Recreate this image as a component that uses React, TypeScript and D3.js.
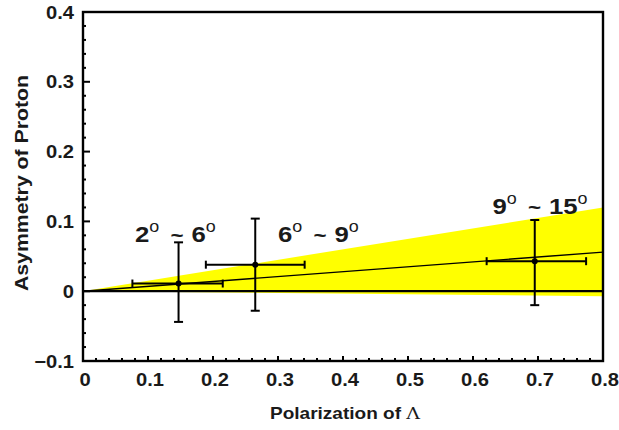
import React from "react";
import * as d3 from "d3";

// ---- data ----
const pointX = [0.147, 0.265, 0.695];
const pointY = [0.011, 0.038, 0.043];
const xErrLo = [0.076, 0.189, 0.621];
const xErrHi = [0.215, 0.341, 0.774];
const yErrLo = [-0.044, -0.028, -0.02];
const yErrHi = [0.07, 0.104, 0.102];
const fitSlope = 0.07;
const bandSlopeHi = 0.15;
const bandSlopeLo = -0.009;
const binLo = ["2", "6", "9"];
const binHi = ["6", "9", "15"];
const labelX = [0.08, 0.30, 0.63];
const labelY = [0.071, 0.071, 0.11];
const xTicks = [0, 0.1, 0.2, 0.3, 0.4, 0.5, 0.6, 0.7, 0.8];
const yTicks = [-0.1, 0, 0.1, 0.2, 0.3, 0.4];
const xTitle = "Polarization of ";
const xTitleSym = "Λ";
const yTitle = "Asymmetry of Proton";

const W = 619;
const H = 430;
const L = 83, R = 603, T = 12, B = 361;
const SX = 1.12;
const FONT = "'Liberation Sans', Arial, sans-serif";
const TXT = "#1a1a1a";

export default function App() {
  const x = d3.scaleLinear().domain([0, 0.8]).range([L, R]);
  const y = d3.scaleLinear().domain([-0.1, 0.4]).range([B, T]);
  const minorX = d3.range(0, 0.8001, 0.02);
  const minorY = d3.range(-0.1, 0.4001, 0.02);
  const band = [
    [0, 0],
    [0.8, 0.8 * bandSlopeHi],
    [0.8, 0.8 * bandSlopeLo],
  ];
  const bandPath = d3.line<number[]>()
    .x((d) => x(d[0]))
    .y((d) => y(d[1]))(band) + "Z";

  return (
    <svg width={W} height={H} style={{ position: "absolute", left: 0, top: 0, background: "#fff" }}>
      <rect x={0} y={0} width={W} height={H} fill="#fff" />
      <path d={bandPath} fill="#ffff00" />
      {/* zero line */}
      <line x1={x(0)} x2={x(0.8)} y1={y(0)} y2={y(0)} stroke="#000" strokeWidth={2.2} />
      {/* fit line */}
      <line x1={x(0)} x2={x(0.8)} y1={y(0)} y2={y(0.8 * fitSlope)} stroke="#000" strokeWidth={1.4} />
      {/* error bars */}
      {pointX.map((px, i) => (
        <g key={i} stroke="#000" strokeWidth={2}>
          <line x1={x(px)} x2={x(px)} y1={y(yErrLo[i])} y2={y(yErrHi[i])} />
          <line x1={x(px) - 4.5} x2={x(px) + 4.5} y1={y(yErrLo[i])} y2={y(yErrLo[i])} />
          <line x1={x(px) - 4.5} x2={x(px) + 4.5} y1={y(yErrHi[i])} y2={y(yErrHi[i])} />
          <line x1={x(xErrLo[i])} x2={x(xErrHi[i])} y1={y(pointY[i])} y2={y(pointY[i])} />
          <line x1={x(xErrLo[i])} x2={x(xErrLo[i])} y1={y(pointY[i]) - 4} y2={y(pointY[i]) + 4} />
          <line x1={x(xErrHi[i])} x2={x(xErrHi[i])} y1={y(pointY[i]) - 4} y2={y(pointY[i]) + 4} />
          <circle cx={x(px)} cy={y(pointY[i])} r={3} fill="#000" stroke="none" />
        </g>
      ))}
      {/* frame */}
      <rect x={L} y={T} width={R - L} height={B - T} fill="none" stroke="#000" strokeWidth={2.4} />
      {/* ticks */}
      {minorY.map((v, i) => {
        const major = Math.abs(v * 10 - Math.round(v * 10)) < 1e-6;
        return (
          <line key={"ym" + i} x1={L} x2={L + (major ? 7 : 3)} y1={y(v)} y2={y(v)} stroke="#000" strokeWidth={2} />
        );
      })}
      {minorX.map((v, i) => {
        const major = Math.abs(v * 10 - Math.round(v * 10)) < 1e-6;
        return (
          <line key={"xm" + i} x1={x(v)} x2={x(v)} y1={B} y2={B - (major ? 5 : 3)} stroke="#000" strokeWidth={2} />
        );
      })}
      {/* tick labels */}
      <g fontFamily={FONT} fontWeight="bold" fontSize={18} fill={TXT}>
        {yTicks.map((v) => (
          <text key={"yl" + v} transform={`translate(${L - 9},${y(v) + 6.5}) scale(${SX},1)`} textAnchor="end">
            {v === 0 ? "0" : d3.format(".1f")(v)}
          </text>
        ))}
        {xTicks.map((v) => (
          <text key={"xl" + v} transform={`translate(${x(v) + 2},${B + 25}) scale(${SX},1)`} textAnchor="middle">
            {v === 0 ? "0" : d3.format(".1f")(v)}
          </text>
        ))}
      </g>
      {/* titles */}
      <text transform={`translate(345,419) scale(${SX},1)`} textAnchor="middle" fontFamily={FONT} fontWeight="bold" fontSize={17} fill={TXT}>
        {xTitle}
        <tspan fontFamily="'DejaVu Serif', 'Liberation Serif', serif" fontWeight="normal">{xTitleSym}</tspan>
      </text>
      <text transform={`translate(28,183) rotate(-90) scale(${SX},1)`} textAnchor="middle" fontFamily={FONT} fontWeight="bold" fontSize={19} fill={TXT}>
        {yTitle}
      </text>
      {/* bin labels */}
      {binLo.map((lo, i) => (
        <text key={"bl" + i} transform={`translate(${x(labelX[i])},${y(labelY[i])}) scale(${SX},1)`} fontFamily={FONT} fontWeight="bold" fontSize={23} fill={TXT}>
          {lo}
          <tspan dy={-10} fontSize={16} fontWeight="normal">o</tspan>
          <tspan dy={10} dx={10} fontSize={20}>~</tspan>
          <tspan dx={7}>{binHi[i]}</tspan>
          <tspan dy={-10} fontSize={16} fontWeight="normal">o</tspan>
        </text>
      ))}
    </svg>
  );
}
